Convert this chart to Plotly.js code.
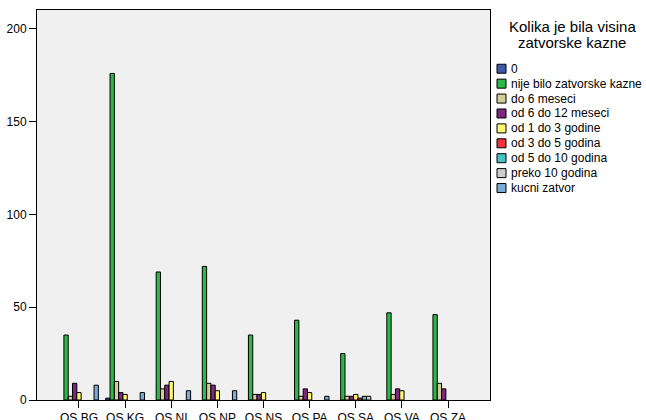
<!DOCTYPE html>
<html><head><meta charset="utf-8">
<script src="https://cdn.plot.ly/plotly-3.0.1.min.js"></script>
<style>html,body{margin:0;padding:0;background:#fff;overflow:hidden}</style>
</head><body><div id="chart" style="width:646px;height:420px"></div>
<script>
const categories = ["OS BG","OS KG","OS NI","OS NP","OS NS","OS PA","OS SA","OS VA","OS ZA"];
const seriesNames = ["0","nije bilo zatvorske kazne","do 6 meseci","od 6 do 12 meseci","od 1 do 3 godine","od 3 do 5 godina","od 5 do 10 godina","preko 10 godina","kucni zatvor"];
const seriesColors = ["#3E58AC","#2EB848","#D3CE97","#7C287D","#FBF873","#EF3338","#48C2C5","#CCCCCC","#7AAAD5"];
const s0        = [null, 1, null, null, null, null, null, null, null];
const sNije     = [35, 176, 69, 72, 35, 43, 25, 47, 46];
const sDo6      = [2, 10, 6, 9, 3, 2, 2, 3, 9];
const s6do12    = [9, 4, 8, 8, 3, 6, 2, 6, 6];
const s1do3     = [4, 3, 10, 5, 4, 4, 3, 5, null];
const s3do5     = [null, null, null, null, null, null, 1, null, null];
const s5do10    = [null, null, null, null, null, null, 2, null, null];
const sPreko10  = [null, null, null, null, null, null, 2, null, null];
const sKucni    = [8, 4, 5, 5, null, 2, null, null, null];
const yTicks = [0, 50, 100, 150, 200];
const legendTitleLines = ["Kolika je bila visina", "zatvorske kazne"];

const allSeries = [s0, sNije, sDo6, s6do12, s1do3, s3do5, s5do10, sPreko10, sKucni];
const FONT = "Liberation Sans, Arial, sans-serif";

const traces = allSeries.map((vals, i) => ({
  type: "bar",
  name: seriesNames[i],
  x: categories,
  y: vals,
  marker: {color: seriesColors[i], line: {color: "#000", width: 1}},
  hoverinfo: "none"
}));

// plot area in pixels: x 37..490, y 10.3..400
const PL = 37, PR = 490, PT = 10.3, PB = 400;
const px2x = p => (p - PL) / (PR - PL);
const py2y = p => (PB - p) / (PB - PT);

const shapes = [];
const annotations = [];
seriesNames.forEach((nm, i) => {
  const cy = 69 + 14.9 * i;
  shapes.push({type: "rect", xref: "paper", yref: "paper",
    x0: px2x(497), x1: px2x(506), y0: py2y(cy + 4.5), y1: py2y(cy - 4.5),
    fillcolor: seriesColors[i], line: {color: "#000", width: 1}});
  annotations.push({xref: "paper", yref: "paper", x: px2x(509), y: py2y(cy),
    xanchor: "left", yanchor: "middle", showarrow: false, text: nm,
    font: {family: FONT, size: 12, color: "#000"}});
});
legendTitleLines.forEach((ln, k) => {
  annotations.push({xref: "paper", yref: "paper", x: px2x(572), y: py2y(27 + 16 * k),
    xanchor: "center", yanchor: "middle", showarrow: false, text: ln,
    font: {family: FONT, size: 15, color: "#000"}});
});

const layout = {
  width: 646, height: 420,
  margin: {l: PL, r: 646 - PR, t: PT, b: 420 - PB, pad: 0},
  paper_bgcolor: "#ffffff",
  plot_bgcolor: "#F0F0F0",
  barmode: "group",
  bargap: 0.16,
  bargroupgap: 0,
  showlegend: false,
  font: {family: FONT, size: 12, color: "#000"},
  xaxis: {
    type: "category",
    range: [-0.91, 8.91],
    showline: true, linecolor: "#000", linewidth: 1, mirror: true,
    ticks: "outside", ticklen: 7, tickcolor: "#000", tickwidth: 1,
    showgrid: false, zeroline: false,
    tickfont: {family: FONT, size: 12, color: "#000"}
  },
  yaxis: {
    range: [0, 210.2],
    tickvals: yTicks,
    showline: true, linecolor: "#000", linewidth: 1, mirror: true,
    ticks: "outside", ticklen: 7, tickcolor: "#000", tickwidth: 1,
    showgrid: false, zeroline: false,
    tickfont: {family: FONT, size: 12, color: "#000"}
  },
  shapes: shapes,
  annotations: annotations
};

Plotly.newPlot("chart", traces, layout, {displayModeBar: false, staticPlot: true});
</script>
</body></html>
